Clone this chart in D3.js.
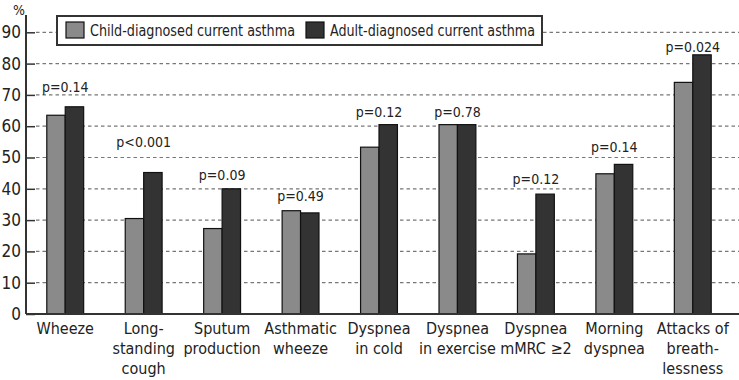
<!DOCTYPE html>
<html>
<head>
<meta charset="utf-8">
<script src="https://cdn.jsdelivr.net/npm/d3@7"></script>
<style>
    body { margin: 0; background: #fff; }
    svg text { font-family: "DejaVu Sans Condensed", "DejaVu Sans", sans-serif; font-stretch: condensed; fill: #222; }
</style>
</head>
<body>
<svg id="chart" width="739" height="380"></svg>
<script>
// categories (line breaks as in the figure)
const categories = [
    ["Wheeze"],
    ["Long-", "standing", "cough"],
    ["Sputum", "production"],
    ["Asthmatic", "wheeze"],
    ["Dyspnea", "in cold"],
    ["Dyspnea", "in exercise"],
    ["Dyspnea", "mMRC \u22652"],
    ["Morning", "dyspnea"],
    ["Attacks of", "breath-", "lessness"]
];
const childValues = [63.5, 30.5, 27.3, 33.0, 53.3, 60.5, 19.2, 44.8, 74.0];
const adultValues = [66.2, 45.2, 40.0, 32.3, 60.5, 60.5, 38.3, 47.8, 82.8];
const pLabels = ["p=0.14", "p<0.001", "p=0.09", "p=0.49", "p=0.12", "p=0.78", "p=0.12", "p=0.14", "p=0.024"];
// height (in %) where each p-value annotation sits
const pLabelAt = [72.6, 55.0, 44.4, 37.6, 64.6, 64.6, 43.2, 53.2, 85.3];
const seriesNames = ["Child-diagnosed current asthma", "Adult-diagnosed current asthma"];
const yTicks = d3.range(0, 100, 10);

const colors = ["#8a8a8a", "#333333"];
const svg = d3.select("#chart");
const axisX = 26, baseY = 314, topY = 32.3;

const x = d3.scaleBand()
    .domain(d3.range(categories.length))
    .range([axisX, 732])
    .paddingInner(0.53)
    .paddingOuter(0.265);
const sub = d3.scaleBand()
    .domain([0, 1])
    .range([0, x.bandwidth()]);
const y = d3.scaleLinear()
    .domain([0, 90])
    .range([baseY, topY]);

// dashed grid
svg.append("g")
    .selectAll("line")
    .data(yTicks.filter(d => d > 0))
    .join("line")
    .attr("x1", axisX + 10)
    .attr("x2", 739)
    .attr("y1", d => y(d))
    .attr("y2", d => y(d))
    .attr("stroke", "#777")
    .attr("stroke-width", 1.2)
    .attr("stroke-dasharray", "3.5,3");

// bars
const rows = categories.map((c, i) => [childValues[i], adultValues[i]]);
const groups = svg.append("g")
    .selectAll("g")
    .data(rows)
    .join("g")
    .attr("transform", (d, i) => `translate(${x(i)},0)`);
groups.selectAll("rect")
    .data(d => d)
    .join("rect")
    .attr("x", (d, j) => sub(j))
    .attr("y", d => y(d))
    .attr("width", sub.bandwidth())
    .attr("height", d => baseY - y(d))
    .attr("fill", (d, j) => colors[j])
    .attr("stroke", "#111")
    .attr("stroke-width", 1.2);

// p values
svg.append("g")
    .selectAll("text")
    .data(pLabels)
    .join("text")
    .attr("x", (d, i) => x(i) + x.bandwidth() / 2)
    .attr("y", (d, i) => y(pLabelAt[i]))
    .attr("dy", "0.35em")
    .attr("text-anchor", "middle")
    .attr("font-size", 14)
    .text(d => d);

// y axis
const yAxis = svg.append("g")
    .attr("transform", `translate(${axisX},0)`)
    .call(d3.axisLeft(y).tickValues(yTicks).tickSizeInner(-9).tickSizeOuter(0).tickPadding(5));
yAxis.select(".domain").remove();
yAxis.selectAll(".tick line").attr("stroke", "#333").attr("stroke-width", 1.5);
yAxis.selectAll(".tick text")
    .attr("font-size", 17)
    .attr("font-family", null)
    .attr("fill", "#222");
svg.append("line")
    .attr("x1", axisX).attr("x2", axisX)
    .attr("y1", 15).attr("y2", baseY)
    .attr("stroke", "#333").attr("stroke-width", 2);
svg.append("line")
    .attr("x1", axisX).attr("x2", 739)
    .attr("y1", baseY).attr("y2", baseY)
    .attr("stroke", "#333").attr("stroke-width", 2);
svg.append("text")
    .attr("x", 19).attr("y", 15)
    .attr("text-anchor", "middle")
    .attr("font-size", 14)
    .text("%");

// category labels
const xl = svg.append("g")
    .selectAll("text")
    .data(categories)
    .join("text")
    .attr("x", (d, i) => x(i) + x.bandwidth() / 2)
    .attr("y", 334)
    .attr("text-anchor", "middle")
    .attr("font-size", 16);
xl.selectAll("tspan")
    .data(d => d)
    .join("tspan")
    .attr("x", function () { return this.parentNode.getAttribute("x"); })
    .attr("dy", (d, j) => j === 0 ? 0 : 20)
    .text(d => d);

// legend
const lg = svg.append("g");
lg.append("rect")
    .attr("x", 57).attr("y", 16)
    .attr("width", 485).attr("height", 29)
    .attr("fill", "#fff")
    .attr("stroke", "#333")
    .attr("stroke-width", 2);
const items = lg.selectAll("g")
    .data(seriesNames)
    .join("g")
    .attr("transform", (d, i) => `translate(${i === 0 ? 66 : 306},0)`);
items.append("rect")
    .attr("x", 0).attr("y", 22)
    .attr("width", 18).attr("height", 16)
    .attr("fill", (d, i) => colors[i])
    .attr("stroke", "#111")
    .attr("stroke-width", 1.2);
items.append("text")
    .attr("x", 24).attr("y", 36)
    .attr("font-size", 16)
    .attr("textLength", 205)
    .attr("lengthAdjust", "spacingAndGlyphs")
    .text(d => d);
</script>
</body>
</html>
